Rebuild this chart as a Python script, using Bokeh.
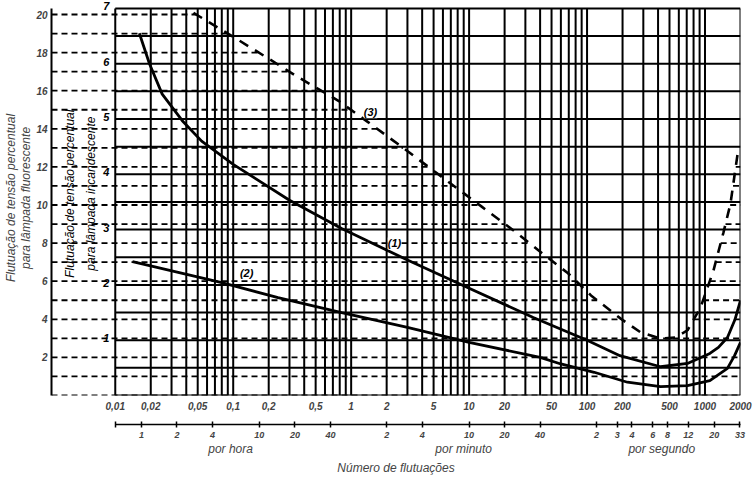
import numpy as np
from bokeh.plotting import figure
from bokeh.models import Range1d, LinearAxis, LogAxis, FixedTicker
from bokeh.core.properties import value
from bokeh.embed import file_html
from bokeh.resources import INLINE

# ---------------- data (x: fluctuations per minute, y: % voltage fluctuation, incandescent scale) ----
curve1_x = [0.016, 0.0195, 0.025, 0.037, 0.054, 0.1, 0.175, 0.3, 0.83, 3, 10, 35, 100, 190, 420,
            710, 1100, 1300, 1550, 1800, 2000]
curve1_y = [6.55, 6.0, 5.45, 4.97, 4.6, 4.18, 3.85, 3.53, 3.02, 2.45, 1.94, 1.41, 1.0, 0.72, 0.52,
            0.58, 0.76, 0.87, 1.05, 1.38, 1.72]

curve2_x = [0.014, 0.08, 0.24, 0.83, 3, 10, 40, 60, 115, 220, 420, 710, 1100, 1550, 1780, 2000]
curve2_y = [2.42, 2.04, 1.77, 1.5, 1.23, 0.96, 0.69, 0.57, 0.42, 0.24, 0.16, 0.18, 0.27, 0.49, 0.72, 0.96]

curve3_x = [0.046, 0.103, 0.2, 0.36, 0.78, 1.4, 2.67, 5.1, 9.1, 12.7, 24, 43, 69, 108, 193, 285,
            420, 560, 711, 916, 1180, 1435, 1645, 1920]
curve3_y = [6.92, 6.47, 6.09, 5.75, 5.33, 4.94, 4.50, 4.05, 3.65, 3.42, 2.98, 2.55, 2.21, 1.81, 1.39, 1.14,
            1.03, 1.05, 1.18, 1.59, 2.26, 2.95, 3.47, 4.47]

curve_labels = ["(1)", "(2)", "(3)"]

x_ticks = [0.01, 0.02, 0.05, 0.1, 0.2, 0.5, 1.0, 2.0, 5.0, 10.0, 20.0, 50.0, 100.0, 200.0, 500.0, 1000.0, 2000.0]
x_tick_labels = ["0,01", "0,02", "0,05", "0,1", "0,2", "0,5", "1", "2", "5", "10", "20", "50",
                 "100", "200", "500", "1000", "2000"]

per_hour = [1, 2, 4, 10, 20, 40]
per_minute = [2, 4, 10, 20, 40]
per_second = [2, 3, 4, 6, 8, 12, 20, 33]
unit_names = ["por hora", "por minuto", "por segundo"]

fluor_ticks = [2, 4, 6, 8, 10, 12, 14, 16, 18, 20]
incand_ticks = [1, 2, 3, 4, 5, 6, 7]

# ---------------- ranges ----------------
X_MIN, X_MAX = 0.01, 2000.0
X_LEFT = 0.00288
Y_TOP = 7.143          # incandescent scale at top of frame
F_TOP = 20.735         # fluorescent scale at top of frame
RATIO = Y_TOP / F_TOP
FONT = value("Liberation Sans")

p = figure(width=753, height=479, x_axis_type="log",
           x_range=Range1d(X_LEFT, X_MAX), y_range=Range1d(0, Y_TOP),
           y_axis_location=None, output_backend="svg", toolbar_location=None,
           min_border_left=49, min_border_right=13, min_border_top=0, min_border_bottom=84)
p.extra_y_ranges = {"fluor": Range1d(0, F_TOP)}
p.grid.visible = False
p.outline_line_color = None
p.background_fill_color = "white"
p.border_fill_color = "white"

# ---------------- grid ----------------
decades = 10.0 ** np.arange(-2, 4)
vx = [k * d for d in decades for k in range(1, 10) if X_MIN * 0.999 <= k * d <= X_MAX * 1.001]
p.segment(x0=vx, y0=0, x1=vx, y1=7, line_color="black", line_width=2)
hy = list(np.arange(0, 7.01, 0.5))
p.segment(x0=X_MIN, y0=hy, x1=X_MAX, y1=hy, line_color="black", line_width=2)

# dashed fluorescent grid, stopping at curve (3)
c3lx = np.log10(curve3_x)
c3y = np.array(curve3_y)
imin = int(np.argmin(c3y))
dx0, dx1, dy = [], [], []
for f in range(0, 21):
    L = f * RATIO
    if L <= c3y[imin] or L >= c3y[0]:
        dx0.append(X_LEFT); dx1.append(X_MAX); dy.append(f)
        continue
    xl = 10 ** np.interp(L, c3y[:imin + 1][::-1], c3lx[:imin + 1][::-1])
    dx0.append(X_LEFT); dx1.append(xl); dy.append(f)
    if L < c3y[-1]:
        xr = 10 ** np.interp(L, c3y[imin:], c3lx[imin:])
        dx0.append(xr); dx1.append(X_MAX); dy.append(f)
p.segment(x0=dx0, y0=dy, x1=dx1, y1=dy, y_range_name="fluor", line_color="black",
          line_width=1.8, line_dash="6 4")

# ---------------- curves ----------------
p.line(curve1_x, curve1_y, line_color="black", line_width=2.8)
p.line(curve2_x, curve2_y, line_color="black", line_width=2.8)
p.line(curve3_x, curve3_y, line_color="black", line_width=2.6, line_dash="10 8")

p.text(x=[2.33, 0.13, 1.46], y=[2.75, 2.22, 5.12], text=curve_labels, text_font=FONT,
       text_font_style="bold italic", text_font_size="11px", text_align="center",
       text_baseline="middle", background_fill_color="white")

# incandescent scale labels and title (inside frame, left of the grid)
p.text(x=X_MIN, y=incand_ticks, text=[str(t) for t in incand_ticks], x_offset=-9, y_offset=-2,
       text_font=FONT, text_font_style="bold italic", text_font_size="11px",
       text_align="center", text_baseline="middle")
p.text(x=[0.00506], y=[3.65], text=["Flutuação de tensão percentual\npara lâmpada incandescente"],
       angle=np.pi / 2, text_font=FONT, text_font_style="italic", text_font_size="12px",
       text_align="center", text_baseline="middle", text_line_height=1.45)

# ---------------- fluorescent axis (left) ----------------
ax_f = LinearAxis(y_range_name="fluor", ticker=FixedTicker(ticks=fluor_ticks), bounds=(0, 20.3),
                  axis_label="Flutuação de tensão percentual\npara lâmpada fluorescente")
ax_f.major_tick_in = 0
ax_f.major_tick_out = 0
ax_f.minor_tick_line_color = None
ax_f.axis_line_width = 2
ax_f.major_label_standoff = 4
ax_f.major_label_text_font = "Liberation Sans"
ax_f.major_label_text_font_style = "bold italic"
ax_f.major_label_text_font_size = "10px"
ax_f.axis_label_text_font = "Liberation Sans"
ax_f.axis_label_text_font_style = "italic"
ax_f.axis_label_text_font_size = "12px"
ax_f.axis_label_text_line_height = 1.1
ax_f.axis_label_standoff = 0
p.add_layout(ax_f, "left")

# ---------------- bottom axes ----------------
xa = p.xaxis[0]
xa.ticker = FixedTicker(ticks=x_ticks)
xa.major_label_overrides = {t: l for t, l in zip(x_ticks, x_tick_labels)}
xa.axis_line_color = None
xa.major_tick_line_color = None
xa.major_tick_in = 0
xa.major_tick_out = 0
xa.minor_tick_line_color = None
xa.major_label_standoff = 6
xa.major_label_text_font = "Liberation Sans"
xa.major_label_text_font_style = "bold italic"
xa.major_label_text_font_size = "10px"
xa.axis_label = " "
xa.axis_label_text_font_size = "7px"
xa.axis_label_standoff = 2

ruler_ticks = [X_MIN] + [h / 60 for h in per_hour] + [float(m) for m in per_minute] + [s * 60.0 for s in per_second]
ruler_labels = [""] + [str(h) for h in per_hour] + [str(m) for m in per_minute] + [str(s) for s in per_second]
ruler = LogAxis(ticker=FixedTicker(ticks=ruler_ticks), bounds=(X_MIN, X_MAX),
                major_label_overrides={t: l for t, l in zip(ruler_ticks, ruler_labels)})
ruler.major_tick_in = 3
ruler.major_tick_out = 3
ruler.minor_tick_line_color = None
ruler.axis_line_width = 1.5
ruler.major_tick_line_width = 1.5
ruler.major_label_standoff = 4
ruler.major_label_text_font = "Liberation Sans"
ruler.major_label_text_font_style = "bold italic"
ruler.major_label_text_font_size = "9px"
p.add_layout(ruler, "below")

unit_pos = [0.095, 9.0, 430.0]
units = LogAxis(ticker=FixedTicker(ticks=unit_pos),
                major_label_overrides={t: l for t, l in zip(unit_pos, unit_names)},
                axis_label="Número de flutuações")
units.axis_line_color = None
units.major_tick_line_color = None
units.major_tick_in = 0
units.major_tick_out = 0
units.minor_tick_line_color = None
units.major_label_standoff = 1
units.major_label_text_font = "Liberation Sans"
units.major_label_text_font_style = "italic"
units.major_label_text_font_size = "12px"
units.axis_label_text_font = "Liberation Sans"
units.axis_label_text_font_style = "italic"
units.axis_label_text_font_size = "12px"
units.axis_label_standoff = 2
p.add_layout(units, "below")

open("out.html", "w").write(file_html(p, INLINE))
